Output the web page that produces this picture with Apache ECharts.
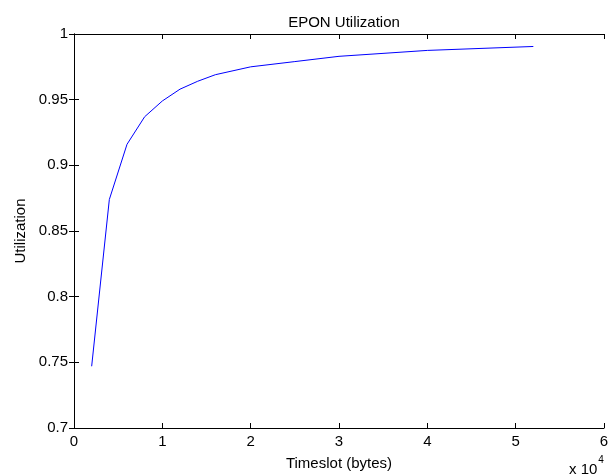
<!DOCTYPE html>
<html>
<head>
<meta charset="utf-8">
<script src="https://cdn.jsdelivr.net/npm/echarts@6/dist/echarts.min.js"></script>
<style>
html,body{margin:0;padding:0;background:#fff;}
#main{width:616px;height:476px;}
</style>
</head>
<body>
<div id="main"></div>
<script>
// timeslot sizes (bytes) and utilization
var timeslot = [2000, 4000, 6000, 8000, 10000, 12000, 14000, 16000, 18000, 20000, 25000, 30000, 40000, 52000];
var utilization = [0.747, 0.874, 0.916, 0.937, 0.949, 0.958, 0.964, 0.969, 0.972, 0.975, 0.979, 0.983, 0.9875, 0.9905];

var font = 'Liberation Sans, Arial, sans-serif';
var myChart = echarts.init(document.getElementById('main'));

var points = [];
for (var i = 0; i < timeslot.length; i++) {
	points.push([timeslot[i], utilization[i]]);
}

var tickStyle = {show: true, inside: true, length: 5, lineStyle: {color: '#000', width: 1}};
var lineStyle = {show: true, lineStyle: {color: '#000', width: 1}};

var option = {
	animation: false,
	backgroundColor: '#fff',
	title: {
		text: 'EPON Utilization',
		left: 339, top: 10, textAlign: 'center',
		textStyle: {fontFamily: font, fontSize: 15, fontWeight: 'normal', color: '#000'}
	},
	grid: {left: 74, top: 34, right: 12, bottom: 48},
	xAxis: [{
		type: 'value', min: 0, max: 60000, interval: 10000,
		position: 'bottom',
		axisLine: lineStyle, axisTick: tickStyle, splitLine: {show: false},
		axisLabel: {fontFamily: font, fontSize: 15, color: '#000', margin: 6,
			formatter: function (v) { return v / 10000; }},
		name: 'Timeslot (bytes)', nameLocation: 'middle', nameGap: 28,
		nameTextStyle: {fontFamily: font, fontSize: 15, color: '#000'}
	}, {
		type: 'value', min: 0, max: 60000, interval: 10000,
		position: 'top',
		axisLine: lineStyle, axisTick: tickStyle, splitLine: {show: false},
		axisLabel: {show: false}
	}],
	yAxis: [{
		type: 'value', min: 0.7, max: 1, interval: 0.05,
		position: 'left',
		axisLine: lineStyle, axisTick: tickStyle, splitLine: {show: false},
		axisLabel: {fontFamily: font, fontSize: 15, color: '#000', margin: 6,
			formatter: function (v) { return +v.toFixed(2); }},
		name: 'Utilization', nameLocation: 'middle', nameGap: 46,
		nameTextStyle: {fontFamily: font, fontSize: 15, color: '#000'}
	}, {
		type: 'value', min: 0.7, max: 1, interval: 0.05,
		position: 'right',
		axisLine: lineStyle, axisTick: tickStyle, splitLine: {show: false},
		axisLabel: {show: false}
	}],
	graphic: [{
		type: 'text', left: 569, top: 455,
		style: {
			text: '{a|x 10}{b|4}',
			rich: {
				a: {fontFamily: font, fontSize: 15, fill: '#000', padding: [7, 0, 0, 0]},
				b: {fontFamily: font, fontSize: 10, fill: '#000', verticalAlign: 'top', padding: [0, 0, 7, 1]}
			}
		}
	}],
	series: [{
		type: 'line',
		data: points,
		symbol: 'none',
		lineStyle: {color: '#0000ff', width: 1}
	}]
};
myChart.setOption(option);
</script>
</body>
</html>
